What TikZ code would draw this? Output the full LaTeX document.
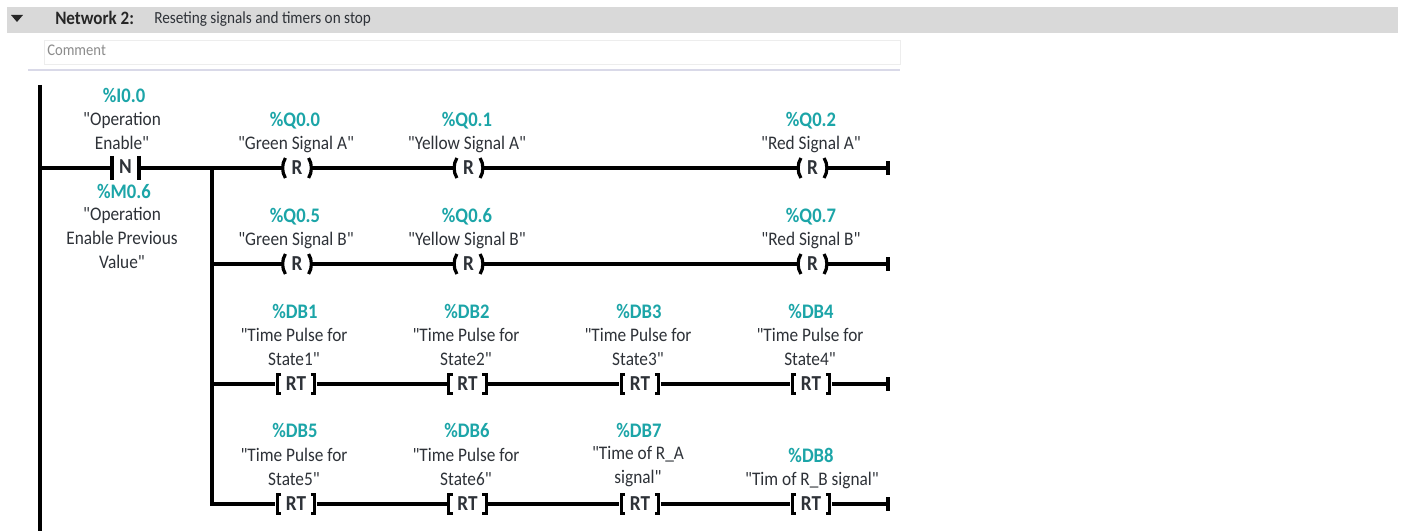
\documentclass[tikz,border=0pt]{standalone}
\usepackage{fontspec}
\newfontfamily\plc[FakeStretch=0.9]{Carlito}
\definecolor{teal1}{HTML}{1CA5A8}
\definecolor{txt}{HTML}{2E3238}
\definecolor{band}{HTML}{D9D9D9}
\tikzset{
 x=0.75pt,y=-0.75pt,
 rail/.style={line width=2.7pt},
 addr/.style={text=teal1,font=\plc\fontsize{15.5}{15.5}\selectfont\bfseries,inner sep=0pt,anchor=center},
 sym/.style={text=txt,font=\plc\fontsize{14.4}{18}\selectfont,inner sep=0pt,align=center,anchor=center},
 elemlabel/.style={text=txt,font=\plc\fontsize{16}{16}\selectfont\bfseries,inner sep=0pt},
 coilbox/.style={elemlabel,minimum width=21pt,minimum height=15pt},
 rtbox/.style={elemlabel,minimum width=31pt,minimum height=15pt},
 contactbox/.style={elemlabel,minimum width=20.5pt,minimum height=18pt},
 endmark/.style={inner sep=0pt,minimum width=2.4pt,minimum height=10pt,fill=black},
}
\newcommand{\coil}[3]{%
 \node[coilbox] (#1) at (#2,#3) {R};
 \draw[line width=2.4pt] ([xshift=2pt,yshift=7.5pt]#1.west) .. controls ([xshift=-0.8pt,yshift=3pt]#1.west) and ([xshift=-0.8pt,yshift=-3pt]#1.west) .. ([xshift=2pt,yshift=-7.5pt]#1.west);
 \draw[line width=2.4pt] ([xshift=-2pt,yshift=7.5pt]#1.east) .. controls ([xshift=0.8pt,yshift=3pt]#1.east) and ([xshift=0.8pt,yshift=-3pt]#1.east) .. ([xshift=-2pt,yshift=-7.5pt]#1.east);
}
\newcommand{\rt}[3]{%
 \node[rtbox] (#1) at (#2,#3) {RT};
 \draw[line width=2.2pt] ([xshift=4.5pt,yshift=7pt]#1.west) -- ([xshift=1.5pt,yshift=7pt]#1.west) -- ([xshift=1.5pt,yshift=-7pt]#1.west) -- ([xshift=4.5pt,yshift=-7pt]#1.west);
 \draw[line width=2.2pt] ([xshift=-4.5pt,yshift=7pt]#1.east) -- ([xshift=-1.5pt,yshift=7pt]#1.east) -- ([xshift=-1.5pt,yshift=-7pt]#1.east) -- ([xshift=-4.5pt,yshift=-7pt]#1.east);
}
\begin{document}
\begin{tikzpicture}
\useasboundingbox[fill=white] (0,0) rectangle (1402,531);
% header
\fill[band] (7,7) rectangle (1398,33);
\fill[black!85] (11,15) -- (23,15) -- (17,22) -- cycle;
\node[anchor=west,inner sep=0pt,font=\plc\fontsize{14.2}{14.2}\selectfont\bfseries,text=black!85] (net) at (55,18) {Network 2:};
\node[anchor=west,inner sep=0pt,font=\plc\fontsize{12.7}{12.7}\selectfont,text=txt] (desc) at (154,19.5) {Reseting signals and timers on stop};
\draw[draw=black!7,line width=0.75pt] (44.5,40.5) rectangle (900.5,64.5);
\node[anchor=west,inner sep=0pt,font=\plc\fontsize{12.2}{12.2}\selectfont,text=black!45] (cmt) at (47,50) {Comment};
\draw[draw=blue!40!black!15,line width=0.9pt] (28,70) -- (900,70);
% rails
\coordinate (railtop) at (40,85);
\coordinate (railbot) at (40,531);
\draw[rail] (railtop) -- (railbot);
\coordinate (rung1) at (40,168);
\coordinate (b1) at (212,168);
\coordinate (b2) at (212,264);
\coordinate (b3) at (212,384);
\coordinate (b4) at (212,504);
\draw[rail] ([yshift=1.3pt]b1) -- ([yshift=-1.3pt]b4);
% contact
\node[contactbox] (n) at (125.5,167) {N};
\draw[rail] (112,156) -- (112,180);
\draw[rail] (139,156) -- (139,180);
\draw[rail] (rung1) -- (112,168);
\draw[rail] (139,168) -- (b1);
% rung 1
\coil{qa}{297}{168}
\coil{qb}{468.5}{168}
\coil{qc}{812.5}{168}
\node[endmark] (e1) at (888,168) {};
\draw[rail] (b1) -- (qa.west);
\draw[rail] (qa.east) -- (qb.west);
\draw[rail] (qb.east) -- (qc.west);
\draw[rail] (qc.east) -- (e1.center);
% rung 2
\coil{qd}{297}{264}
\coil{qe}{468.5}{264}
\coil{qf}{812.5}{264}
\node[endmark] (e2) at (888,264) {};
\draw[rail] (b2) -- (qd.west);
\draw[rail] (qd.east) -- (qe.west);
\draw[rail] (qe.east) -- (qf.west);
\draw[rail] (qf.east) -- (e2.center);
% rung 3
\rt{d1}{296}{384}
\rt{d2}{467.5}{384}
\rt{d3}{640}{384}
\rt{d4}{811}{384}
\node[endmark] (e3) at (888,384) {};
\draw[rail] (b3) -- (d1.west);
\draw[rail] (d1.east) -- (d2.west);
\draw[rail] (d2.east) -- (d3.west);
\draw[rail] (d3.east) -- (d4.west);
\draw[rail] (d4.east) -- (e3.center);
% rung 4
\rt{d5}{296}{504}
\rt{d6}{467.5}{504}
\rt{d7}{640}{504}
\rt{d8}{811}{504}
\node[endmark] (e4) at (888,504) {};
\draw[rail] (b4) -- (d5.west);
\draw[rail] (d5.east) -- (d6.west);
\draw[rail] (d6.east) -- (d7.west);
\draw[rail] (d7.east) -- (d8.west);
\draw[rail] (d8.east) -- (e4.center);
% labels
\node[addr] (a00) at (124,95.5) {\%I0.0};
\node[sym] (s00) at (122,131) {"Operation\\Enable"};
\node[addr] (a01) at (124,191.5) {\%M0.6};
\node[sym] (s01) at (122,238) {"Operation\\Enable Previous\\Value"};
\node[addr] (a1) at (295,120.5) {\%Q0.0};
\node[sym] (s1) at (296,144) {"Green Signal A"};
\node[addr] (a2) at (467,120.5) {\%Q0.1};
\node[sym] (s2) at (467,144) {"Yellow Signal A"};
\node[addr] (a3) at (811,120.5) {\%Q0.2};
\node[sym] (s3) at (811,144) {"Red Signal A"};
\node[addr] (a4) at (295,216.5) {\%Q0.5};
\node[sym] (s4) at (296,240) {"Green Signal B"};
\node[addr] (a5) at (467,216.5) {\%Q0.6};
\node[sym] (s5) at (467,240) {"Yellow Signal B"};
\node[addr] (a6) at (811,216.5) {\%Q0.7};
\node[sym] (s6) at (811,240) {"Red Signal B"};
\node[addr] (a7) at (295,311.5) {\%DB1};
\node[sym] (s7) at (294,347) {"Time Pulse for\\State1"};
\node[addr] (a8) at (467,311.5) {\%DB2};
\node[sym] (s8) at (466,347) {"Time Pulse for\\State2"};
\node[addr] (a9) at (639,311.5) {\%DB3};
\node[sym] (s9) at (638,347) {"Time Pulse for\\State3"};
\node[addr] (a10) at (811,311.5) {\%DB4};
\node[sym] (s10) at (810,347) {"Time Pulse for\\State4"};
\node[addr] (a11) at (295,430.5) {\%DB5};
\node[sym] (s11) at (294,467) {"Time Pulse for\\State5"};
\node[addr] (a12) at (467,430.5) {\%DB6};
\node[sym] (s12) at (466,467) {"Time Pulse for\\State6"};
\node[addr] (a13) at (639,430.5) {\%DB7};
\node[sym] (s13) at (638,467) {"Time of R\_A\\signal"};
\node[addr] (a14) at (811,455.5) {\%DB8};
\node[sym] (s14) at (812,480) {"Tim of R\_B signal"};
\end{tikzpicture}
\end{document}
